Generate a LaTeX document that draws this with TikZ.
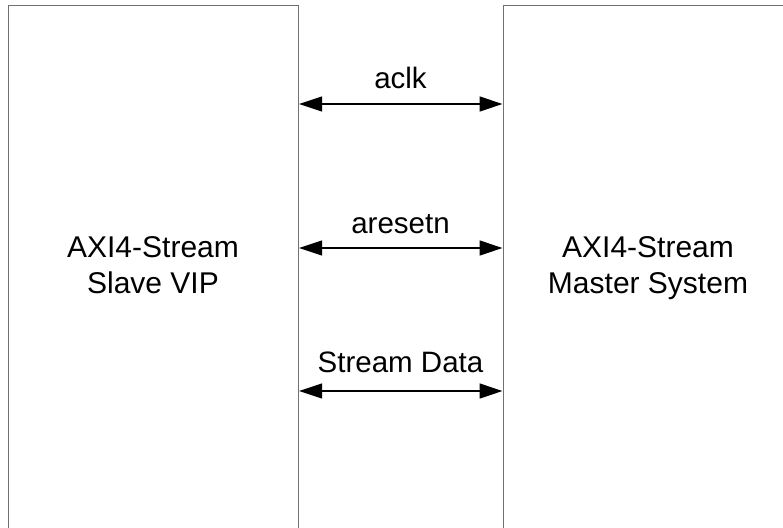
\documentclass[tikz,border=0pt]{standalone}
\usepackage{fontspec}
\setmainfont{Liberation Sans}
\usetikzlibrary{arrows.meta}
\definecolor{boxgray}{RGB}{112,112,112}
\tikzset{
  blockbox/.style={draw=boxgray, line width=1.1pt, fill=none, inner sep=0pt, anchor=north west},
  blocktext/.style={inner sep=0pt, anchor=north, align=center, font=\fontsize{30}{36}\selectfont},
  sigtext/.style={inner sep=0pt, anchor=base, font=\fontsize{29.5}{36}\selectfont},
  biarrow/.style={line width=1.3pt, {Triangle[length=23pt,width=15pt]}-{Triangle[length=23pt,width=15pt]}}
}
\begin{document}
\begin{tikzpicture}[x=1pt,y=-1pt]
\useasboundingbox (0,0) rectangle (783,527);
\clip (0,0) rectangle (783,527);
\node[blockbox, minimum width=290pt, minimum height=560pt] (slave) at (8,5) {};
\node[blockbox, minimum width=300pt, minimum height=560pt] (master) at (502.5,5) {};
\node[blocktext] (slavelbl) at (153,236) {AXI4-Stream\\Slave VIP};
\node[blocktext] (masterlbl) at (648,236) {AXI4-Stream\\Master System};
\coordinate (y1) at (0,104);
\coordinate (y2) at (0,248);
\coordinate (y3) at (0,391);
\draw[biarrow] (slave.east |- y1) -- (master.west |- y1);
\draw[biarrow] (slave.east |- y2) -- (master.west |- y2);
\draw[biarrow] (slave.east |- y3) -- (master.west |- y3);
\node[sigtext] (aclk) at (400.5,88) {aclk};
\node[sigtext] (aresetn) at (400.5,233) {aresetn};
\node[sigtext] (sdata) at (400.5,372) {Stream Data};
\end{tikzpicture}
\end{document}
